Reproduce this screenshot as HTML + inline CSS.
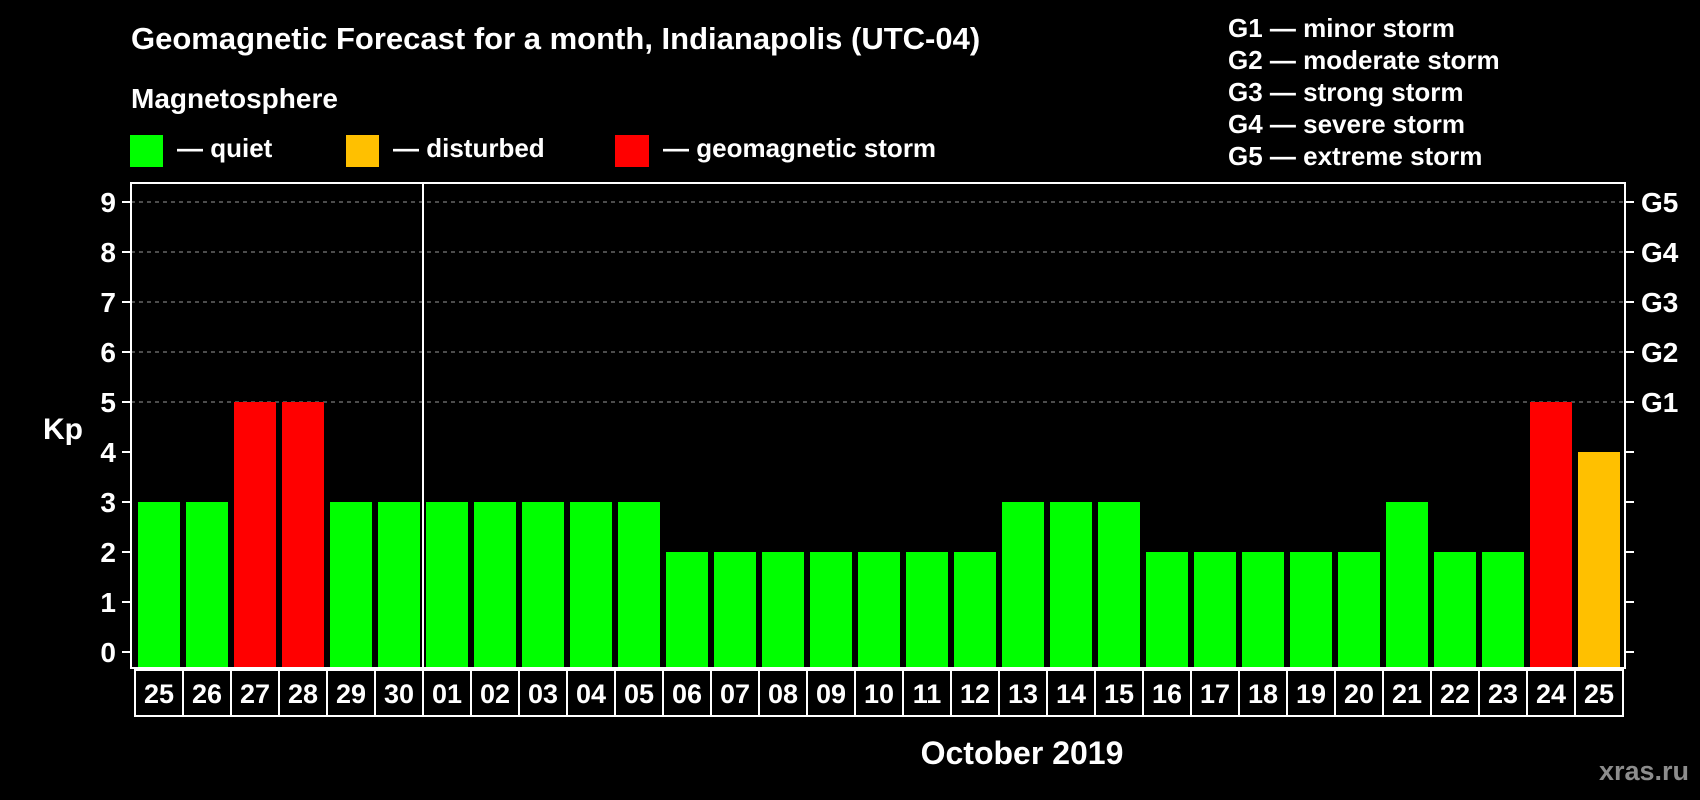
<!DOCTYPE html>
<html><head><meta charset="utf-8"><style>
html,body{margin:0;padding:0;background:#000;width:1700px;height:800px;overflow:hidden}
svg{display:block;font-family:"Liberation Sans",Arial,sans-serif;font-weight:bold}
</style></head><body>
<svg id="chart" width="1700" height="800" xmlns="http://www.w3.org/2000/svg">
<rect width="1700" height="800" fill="#000"/>
<text x="131" y="49" fill="#fff" font-size="31">Geomagnetic Forecast for a month, Indianapolis (UTC-04)</text>
<text x="131" y="108" fill="#fff" font-size="28">Magnetosphere</text>
<rect x="130" y="135" width="33" height="32" fill="#00ff00"/>
<text x="177" y="157" fill="#fff" font-size="26">— quiet</text>
<rect x="346" y="135" width="33" height="32" fill="#ffc000"/>
<text x="393" y="157" fill="#fff" font-size="26">— disturbed</text>
<rect x="615" y="135" width="34" height="32" fill="#ff0000"/>
<text x="663" y="157" fill="#fff" font-size="26">— geomagnetic storm</text>
<g fill="#fff" font-size="26">
<text x="1228" y="37">G1 — minor storm</text>
<text x="1228" y="69">G2 — moderate storm</text>
<text x="1228" y="101">G3 — strong storm</text>
<text x="1228" y="133">G4 — severe storm</text>
<text x="1228" y="165">G5 — extreme storm</text>
</g>
<text x="43" y="439" fill="#fff" font-size="30">Kp</text>
<text x="1022" y="764" fill="#fff" font-size="32" text-anchor="middle">October 2019</text>
<text x="1689" y="780" fill="#8c8c8c" font-size="27" text-anchor="end">xras.ru</text>
<g id="plot"></g>
</svg>
<script>
const dayLabels = ["25","26","27","28","29","30","01","02","03","04","05","06","07","08","09","10","11","12","13","14","15","16","17","18","19","20","21","22","23","24","25"];
const kpValues = [3,3,5,5,3,3,3,3,3,3,3,2,2,2,2,2,2,2,3,3,3,2,2,2,2,2,3,2,2,5,4];
const yTicks = [0,1,2,3,4,5,6,7,8,9];
const gLabels = ["G1","G2","G3","G4","G5"];
const gLevels = [5,6,7,8,9];
const monthBreakIndex = 6;

const NS = "http://www.w3.org/2000/svg";
const plot = document.getElementById('plot');
const L = 131, R = 1625, T = 183, B = 668;
const pitch = 48, x0 = 138, barW = 42;
function yScale(v){ return 652 - v * 50; }
function xScale(i){ return x0 + i * pitch; }
function mk(tag, attrs){ const e = document.createElementNS(NS, tag); for (const k in attrs) e.setAttribute(k, attrs[k]); plot.appendChild(e); return e; }
function color(v){ return v >= 5 ? "#ff0000" : (v >= 4 ? "#ffc000" : "#00ff00"); }

gLevels.forEach(v => {
  const g = mk('line', {x1:L, x2:R, y1:yScale(v), y2:yScale(v), stroke:'#999', 'stroke-width':1, 'stroke-dasharray':'4,4'});
  
  
});
kpValues.forEach((v, i) => {
  const r = mk('rect', {x:xScale(i), y:yScale(v), width:barW, height:B - yScale(v), fill:color(v)});
  
  
});
const fr = mk('rect', {x:L, y:T, width:R-L, height:B-T, fill:'none', stroke:'#fff', 'stroke-width':2});


const sep = mk('line', {x1:xScale(monthBreakIndex)-3, x2:xScale(monthBreakIndex)-3, y1:T, y2:B, stroke:'#fff', 'stroke-width':2});


yTicks.forEach(v => {
  const y = yScale(v);
  const t1 = mk('line', {x1:122, x2:L, y1:y, y2:y, stroke:'#fff', 'stroke-width':2});
  
  
  const t2 = mk('line', {x1:R, x2:1634, y1:y, y2:y, stroke:'#fff', 'stroke-width':2});
  
  
  const tx = mk('text', {x:116, y:y+10, fill:'#fff', 'font-size':28, 'text-anchor':'end'});
  tx.textContent = v;
  
  
});
gLabels.forEach((g, i) => {
  const tx = mk('text', {x:1641, y:yScale(gLevels[i])+10, fill:'#fff', 'font-size':28});
  tx.textContent = g;
  
  
});
dayLabels.forEach((d, i) => {
  const bx = mk('rect', {x:xScale(i)-3, y:670, width:pitch, height:46, fill:'#000', stroke:'#fff', 'stroke-width':2});
  
  
  const tx = mk('text', {x:xScale(i)-3+pitch/2, y:703, fill:'#fff', 'font-size':27, 'text-anchor':'middle'});
  tx.textContent = d;
  
  
});
</script>
</body></html>
